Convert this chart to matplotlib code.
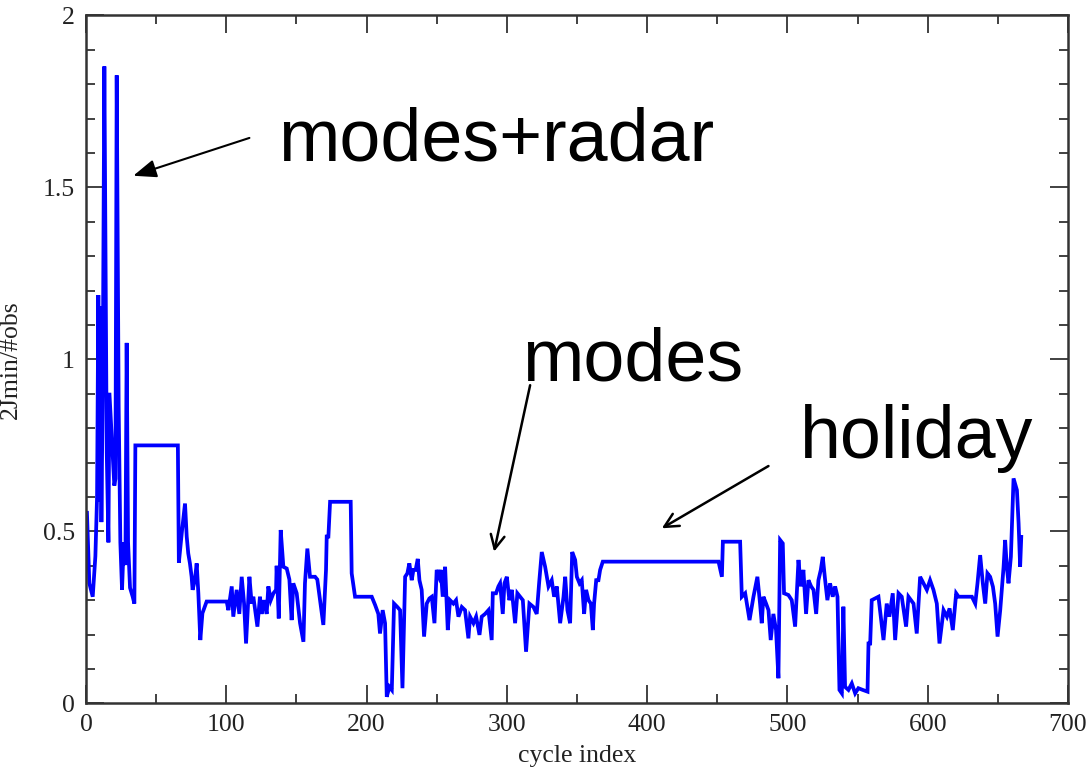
import matplotlib
matplotlib.use("Agg")
import matplotlib.pyplot as plt
from matplotlib.ticker import MultipleLocator

# vertices (cycle index, 2Jmin/#obs)
cycle = [0.7, 2.4, 4.8, 6.7, 7.9, 8.8, 9.5, 10.2, 11.0, 11.9, 13.1, 14.8, 16.0, 16.7, 18.6, 20.2, 21.0,
         21.9, 23.3, 24.5, 25.7, 26.9, 28.1, 29.0, 30.0, 31.4, 33.3, 34.5, 35.2,
         65.5, 66.2, 68.5, 70.6, 71.8, 72.9, 74.1, 75.3, 76.0, 77.7, 78.9, 80.1, 81.5, 83.0, 86.0, 100.3,
         101.5, 103.9, 105.0, 107.4, 109.3, 111.0, 112.7, 114.1, 116.5, 118.1, 119.3, 122.2, 124.0, 125.2,
         126.9, 128.8, 130.0, 131.7, 133.6, 135.5, 135.9, 137.4, 138.8, 140.7, 143.1, 145.0, 146.6, 147.8,
         150.2, 152.6, 155.0, 156.1, 157.8, 159.7, 163.3, 164.9, 169.2, 171.1, 171.6, 172.8, 174.0, 188.7,
         189.4, 191.8, 203.7,
         206.1, 208.4, 209.6, 211.5, 213.2, 214.4, 216.3, 218.0, 219.6, 222.0, 223.9, 225.6, 227.5, 229.1,
         230.5, 232.2, 233.4, 235.0, 236.5, 237.7, 239.3, 241.0, 242.9, 244.8, 246.5, 248.4, 250.0, 251.7,
         252.9, 254.3, 256.0, 257.9, 259.5, 261.9, 263.8, 265.5, 267.9, 270.2, 272.6, 273.8, 276.2, 278.1,
         280.5, 282.1, 284.5, 286.9, 289.2, 290.0, 292.3, 294.0, 295.2, 297.1, 298.3, 300.0, 301.8, 303.5,
         305.9, 307.5, 309.5, 311.4, 313.7, 316.1, 319.0, 321.3, 323.0, 324.9, 327.3, 329.7, 332.0, 333.7,
         335.6, 338.0,
         340.4, 341.6, 343.2, 345.1, 346.6, 348.7, 349.9, 351.8, 353.4, 355.1, 356.5, 358.2, 359.9, 361.3,
         362.2, 363.7, 365.3, 366.5, 368.4, 450.9, 453.3, 454.0, 466.3, 467.5, 469.9, 473.0,
         475.8, 478.6, 480.5, 481.7, 482.9, 484.8, 486.5, 488.1, 490.0, 491.9, 493.6, 494.8, 496.7, 497.6,
         500.7, 503.1, 505.5, 507.9, 509.5, 511.4, 513.3, 515.0, 516.9, 518.6, 520.5, 522.1, 523.8, 525.2,
         526.9, 528.5, 530.4, 532.3, 534.0, 535.7, 537.1, 538.8, 539.9, 541.1, 543.5, 545.9, 548.3, 550.6,
         553.7, 557.1, 557.8, 559.0, 560.1, 562.5, 564.9, 568.5, 570.8, 572.7, 575.1, 576.8, 579.2, 581.5,
         584.6, 586.3, 589.9, 592.2, 594.6, 597.0, 599.4, 601.7, 604.1, 606.5, 608.4,
         611.3, 613.7, 615.6, 617.9, 620.3, 622.0, 631.5, 633.9, 635.5, 637.4, 639.3, 641.0, 642.6, 644.5,
         646.5, 648.1, 649.8, 651.7, 654.1, 655.2, 656.4, 657.6, 659.3, 661.2, 663.6, 664.8, 665.9, 666.7]

jmin = [0.554, 0.349, 0.31, 0.428, 0.6, 1.187, 0.587, 1.154, 0.527, 0.903, 1.852, 0.73, 0.468, 0.903, 0.758, 0.633, 0.653,
        1.826, 0.864, 0.468, 0.33, 0.468, 0.402, 1.048, 0.468, 0.336, 0.31, 0.29, 0.75,
        0.75, 0.409, 0.504, 0.581, 0.485, 0.436, 0.407, 0.368, 0.33, 0.36, 0.407, 0.32, 0.184, 0.262, 0.296, 0.296,
        0.271, 0.34, 0.252, 0.33, 0.26, 0.368, 0.29, 0.174, 0.368, 0.29, 0.31, 0.223, 0.31, 0.26,
        0.30, 0.26, 0.34, 0.30, 0.32, 0.33, 0.40, 0.247, 0.504, 0.397, 0.392, 0.36, 0.242, 0.349,
        0.32, 0.233, 0.179, 0.349, 0.45, 0.368, 0.368, 0.36, 0.228, 0.388, 0.485, 0.485, 0.586, 0.586,
        0.378, 0.31, 0.31,
        0.286, 0.26, 0.203, 0.271, 0.233, 0.019, 0.048, 0.039, 0.29, 0.28, 0.271, 0.044, 0.368, 0.378,
        0.407, 0.358, 0.388, 0.388, 0.42, 0.358, 0.33, 0.194, 0.29, 0.305, 0.31, 0.233, 0.388, 0.368,
        0.388, 0.31, 0.397, 0.213, 0.30, 0.29, 0.30, 0.252, 0.28, 0.271, 0.189, 0.252, 0.233, 0.252,
        0.199, 0.252, 0.26, 0.271, 0.184, 0.32, 0.32, 0.34, 0.349, 0.26, 0.349, 0.368, 0.30, 0.33,
        0.233, 0.32, 0.31, 0.30, 0.15, 0.29, 0.28, 0.26, 0.349, 0.44, 0.397, 0.34, 0.358, 0.31,
        0.34, 0.233,
        0.31, 0.368, 0.271, 0.233, 0.44, 0.417, 0.368, 0.349, 0.358, 0.26, 0.33, 0.30, 0.29, 0.213,
        0.29, 0.358, 0.358, 0.388, 0.412, 0.412, 0.368, 0.47, 0.47, 0.31, 0.32, 0.242,
        0.31, 0.368, 0.29, 0.233, 0.31, 0.29, 0.271, 0.184, 0.26, 0.213, 0.073, 0.475, 0.465, 0.32,
        0.315, 0.30, 0.223, 0.417, 0.34, 0.388, 0.26, 0.358, 0.34, 0.33, 0.26, 0.358, 0.388, 0.426,
        0.358, 0.30, 0.349, 0.31, 0.34, 0.31, 0.039, 0.029, 0.281, 0.048, 0.039, 0.058, 0.029, 0.044,
        0.039, 0.034, 0.174, 0.174, 0.30, 0.305, 0.31, 0.184, 0.29, 0.252, 0.32, 0.184, 0.32, 0.31,
        0.223, 0.31, 0.29, 0.203, 0.368, 0.349, 0.33, 0.358, 0.33, 0.29, 0.174,
        0.271, 0.252, 0.276, 0.213, 0.32, 0.31, 0.31, 0.29, 0.349, 0.431, 0.349, 0.29, 0.378, 0.368,
        0.339, 0.29, 0.194, 0.271, 0.397, 0.475, 0.397, 0.349, 0.426, 0.654, 0.62, 0.523, 0.397, 0.484]

xticks = [0, 100, 200, 300, 400, 500, 600, 700]
yticks = [0, 0.5, 1, 1.5, 2]
ytick_labels = ["0", "0.5", "1", "1.5", "2"]

fig = plt.figure(figsize=(10.87, 7.67), dpi=100)
ax = fig.add_axes([0.0791, 0.083, 0.9034, 0.8968])

ax.plot(cycle, jmin, color="#0000ff", lw=2.7, solid_joinstyle="miter")

ax.set_xlim(0, 700)
ax.set_ylim(0, 2)
ax.set_xticks(xticks)
ax.set_xticklabels([str(t) for t in xticks])
ax.set_yticks(yticks)
ax.set_yticklabels(ytick_labels)
ax.xaxis.set_minor_locator(MultipleLocator(50))
ax.yaxis.set_minor_locator(MultipleLocator(0.1))

serif = "Liberation Serif"
for lab in ax.get_xticklabels() + ax.get_yticklabels():
    lab.set_family(serif)
    lab.set_fontsize(18.5)
    lab.set_color("#222222")

ax.tick_params(which="both", direction="in", top=True, right=True, color="#333333")
ax.tick_params(which="major", length=13, width=1.3, pad=8)
ax.tick_params(which="minor", length=6.5, width=1.3)
for s in ax.spines.values():
    s.set_color("#333333")
    s.set_linewidth(1.8)

ax.set_xlabel("cycle index", family=serif, fontsize=18.5, color="#222222", labelpad=6)
ax.set_ylabel("2Jmin/#obs", family=serif, fontsize=18.5, color="#222222", labelpad=15)

# annotations
sans = "Liberation Sans"
ax.text(136.9, 1.579, "modes+radar", family=sans, fontsize=53, ha="left", va="baseline")
ax.text(310.9, 0.94, "modes", family=sans, fontsize=53, ha="left", va="baseline")
ax.text(509.1, 0.713, "holiday", family=sans, fontsize=53, ha="left", va="baseline")

ax.annotate("", xy=(33.7, 1.534), xytext=(116.5, 1.644),
            arrowprops=dict(arrowstyle="-|>,head_length=1.4,head_width=0.55", color="black", lw=1.5,
                            shrinkA=0, shrinkB=0))
ax.annotate("", xy=(290.9, 0.441), xytext=(316.6, 0.925),
            arrowprops=dict(arrowstyle="->,head_length=1.0,head_width=0.5", color="black", lw=1.8,
                            shrinkA=0, shrinkB=0))
ax.annotate("", xy=(410.5, 0.509), xytext=(486.5, 0.69),
            arrowprops=dict(arrowstyle="->,head_length=1.0,head_width=0.5", color="black", lw=1.8,
                            shrinkA=0, shrinkB=0))

fig.savefig("out.png", dpi=100)
